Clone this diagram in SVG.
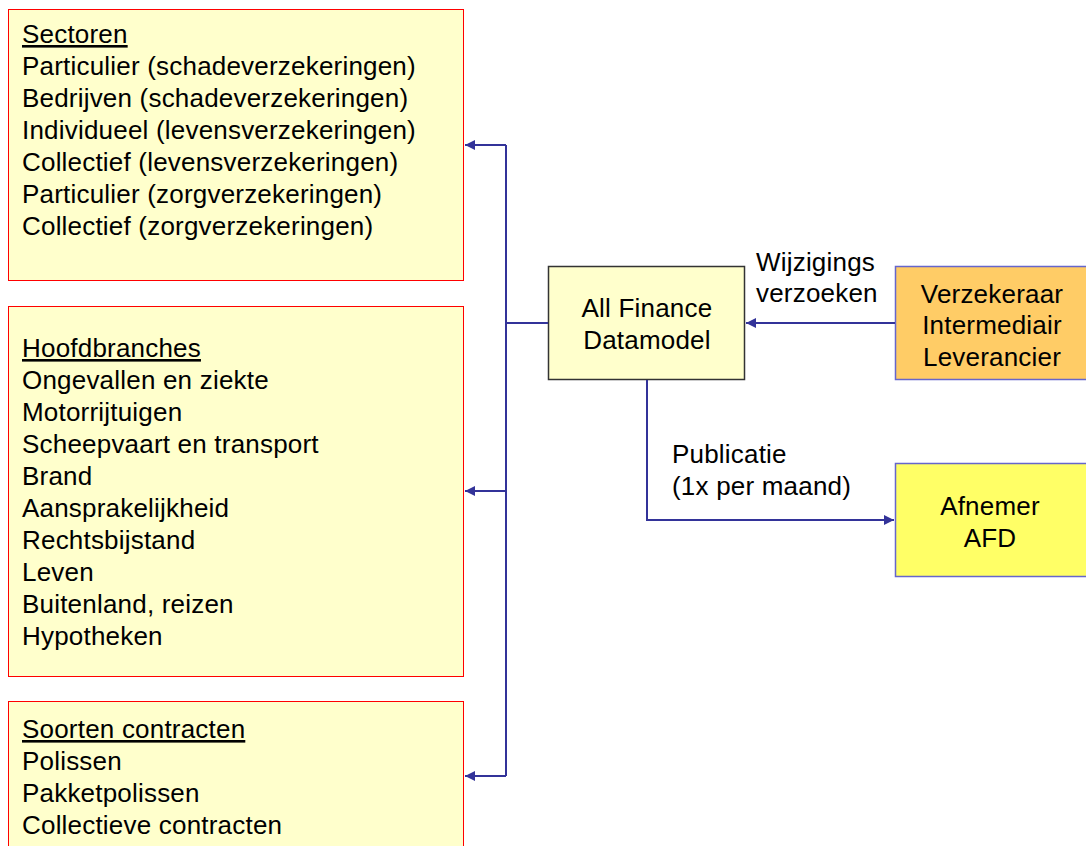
<svg xmlns="http://www.w3.org/2000/svg" width="1086" height="846" viewBox="0 0 1086 846">
<defs>
<style>
text{font-family:"Liberation Sans",Arial,sans-serif;font-size:26px;letter-spacing:0.2px;fill:#000}
.lb{fill:#FFFFCC;stroke:#FF0000;stroke-width:1}
.u{text-decoration:underline}
.c{text-anchor:middle}
.con{fill:none;stroke:#333399;stroke-width:2}
</style>
<marker id="ah" viewBox="0 0 10 10" refX="10" refY="5" markerWidth="5" markerHeight="5" orient="auto" markerUnits="strokeWidth">
<path d="M0,0 L10,5 L0,10 z" fill="#333399"/>
</marker>
</defs>
<rect width="1086" height="846" fill="#fff"/>
<g id="sectoren">
<rect class="lb" x="8.5" y="9.5" width="455" height="271"/>
<text x="22" y="43" class="u">Sectoren</text>
<text x="22" y="75">Particulier (schadeverzekeringen)</text>
<text x="22" y="107">Bedrijven (schadeverzekeringen)</text>
<text x="22" y="139">Individueel (levensverzekeringen)</text>
<text x="22" y="171">Collectief (levensverzekeringen)</text>
<text x="22" y="203">Particulier (zorgverzekeringen)</text>
<text x="22" y="235">Collectief (zorgverzekeringen)</text>
</g>
<g id="hoofdbranches">
<rect class="lb" x="8.5" y="306.5" width="455" height="370"/>
<text x="22" y="357" class="u">Hoofdbranches</text>
<text x="22" y="389">Ongevallen en ziekte</text>
<text x="22" y="421">Motorrijtuigen</text>
<text x="22" y="453">Scheepvaart en transport</text>
<text x="22" y="485">Brand</text>
<text x="22" y="517">Aansprakelijkheid</text>
<text x="22" y="549">Rechtsbijstand</text>
<text x="22" y="581">Leven</text>
<text x="22" y="613">Buitenland, reizen</text>
<text x="22" y="645">Hypotheken</text>
</g>
<g id="soorten">
<rect class="lb" x="8.5" y="701.5" width="455" height="160"/>
<text x="22" y="738" class="u">Soorten contracten</text>
<text x="22" y="770">Polissen</text>
<text x="22" y="802">Pakketpolissen</text>
<text x="22" y="834">Collectieve contracten</text>
</g>
<g id="afd">
<rect x="548.5" y="266.5" width="196" height="113" fill="#FFFFCC" stroke="#333333" stroke-width="1.5"/>
<text x="647" y="317" class="c">All Finance</text>
<text x="647" y="349" class="c">Datamodel</text>
</g>
<g id="verzekeraar">
<rect x="895.5" y="266.5" width="200" height="113" fill="#FFCC66" stroke="#6666CC" stroke-width="1.5"/>
<text x="992" y="303" class="c">Verzekeraar</text>
<text x="992" y="334" class="c">Intermediair</text>
<text x="992" y="366" class="c">Leverancier</text>
</g>
<g id="afnemer">
<rect x="895.5" y="463.5" width="200" height="113" fill="#FFFF66" stroke="#6666CC" stroke-width="1.5"/>
<text x="990" y="515" class="c">Afnemer</text>
<text x="990" y="547" class="c">AFD</text>
</g>
<g id="connectors">
<path class="con" d="M548,323 H506"/>
<path class="con" d="M506,145 V776"/>
<path class="con" d="M506,145 H465" marker-end="url(#ah)"/>
<path class="con" d="M506,491 H465" marker-end="url(#ah)"/>
<path class="con" d="M506,776 H465" marker-end="url(#ah)"/>
<path class="con" d="M895,323 H746" marker-end="url(#ah)"/>
<path class="con" d="M647,380 V520 H894" marker-end="url(#ah)"/>
<text x="756" y="271">Wijzigings</text>
<text x="756" y="302">verzoeken</text>
<text x="672" y="463">Publicatie</text>
<text x="672" y="495">(1x per maand)</text>
</g>
</svg>
